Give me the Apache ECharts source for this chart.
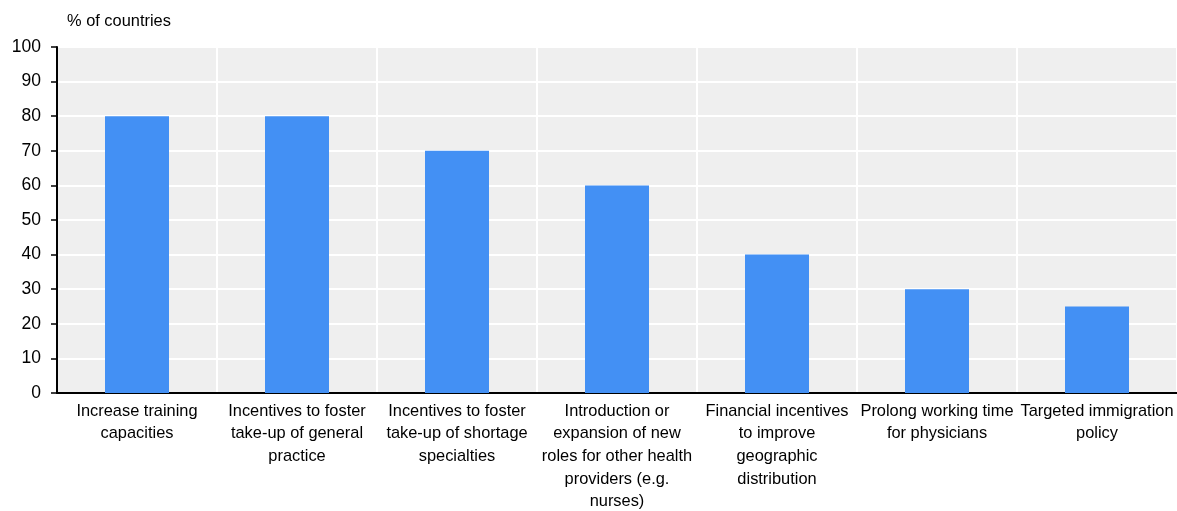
<!DOCTYPE html>
<html>
<head>
<meta charset="utf-8">
<script src="https://cdn.jsdelivr.net/npm/echarts@6/dist/echarts.min.js"></script>
<style>
	html, body { margin: 0; padding: 0; background: #fff; }
	#chart { width: 1177px; height: 511px; }
</style>
</head>
<body>
<div id="chart"></div>
<script>
( function() {
	'use strict';
	var categories = [
		'Increase training\ncapacities',
		'Incentives to foster\ntake-up of general\npractice',
		'Incentives to foster\ntake-up of shortage\nspecialties',
		'Introduction or\nexpansion of new\nroles for other health\nproviders (e.g.\nnurses)',
		'Financial incentives\nto improve\ngeographic\ndistribution',
		'Prolong working time\nfor physicians',
		'Targeted immigration\npolicy'
	];
	var shareValues = [ 80, 80, 70, 60, 40, 30, 25 ];
	var yTicks = [ 0, 10, 20, 30, 40, 50, 60, 70, 80, 90, 100 ];

	var font = '"Liberation Sans", Arial, sans-serif';
	var chart = echarts.init( document.getElementById( 'chart' ) );
	chart.setOption( {
		animation: false,
		textStyle: { fontFamily: font },
		title: {
			text: '% of countries',
			left: 62,
			top: 8,
			textStyle: { fontFamily: font, fontSize: 16.4, fontWeight: 'normal', color: '#000' }
		},
		grid: {
			left: 57,
			right: 0,
			top: 47,
			bottom: 118,
			outerBoundsMode: 'none',
			containLabel: false,
			show: true,
			backgroundColor: '#efefef',
			borderWidth: 0
		},
		xAxis: {
			type: 'category',
			data: categories,
			axisLine: { lineStyle: { color: '#000', width: 2 } },
			axisTick: { inside: true, length: 6, lineStyle: { color: '#000', width: 1.5 } },
			splitLine: { show: true, lineStyle: { color: '#fff', width: 2 } },
			axisLabel: {
				interval: 0,
				margin: 7,
				fontSize: 16.4,
				lineHeight: 22.6,
				color: '#000',
				fontFamily: font
			}
		},
		yAxis: {
			type: 'value',
			min: yTicks[ 0 ],
			max: yTicks[ yTicks.length - 1 ],
			interval: 10,
			axisLine: { show: true, lineStyle: { color: '#000', width: 2 } },
			axisTick: { show: true, length: 6, lineStyle: { color: '#000', width: 1.5 } },
			splitLine: { lineStyle: { color: '#fff', width: 2 } },
			axisLabel: { fontSize: 17.5, color: '#000', margin: 16, fontFamily: font }
		},
		series: [ {
			type: 'bar',
			data: shareValues,
			barWidth: '40%',
			itemStyle: { color: '#4390f4' }
		} ]
	} );
} )();
</script>
</body>
</html>
